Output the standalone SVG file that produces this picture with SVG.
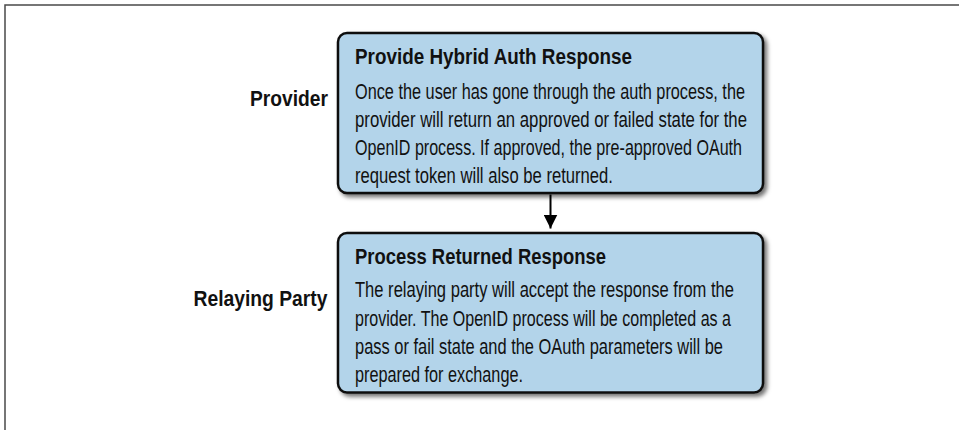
<svg xmlns="http://www.w3.org/2000/svg" width="959" height="430" viewBox="0 0 959 430">
<defs>
<filter id="sh" x="-5%" y="-5%" width="115%" height="125%">
<feDropShadow dx="3" dy="3" stdDeviation="2" flood-color="#000" flood-opacity="0.55"/>
</filter>
<marker id="ah" markerUnits="userSpaceOnUse" markerWidth="16" markerHeight="14" refX="14" refY="7" orient="auto">
<path d="M0,0 L14,7 L0,14 Z" fill="#000"/>
</marker>
</defs>
<style>
.box{fill:#b3d4ea;stroke:#111;stroke-width:2.5;filter:url(#sh)}
.t{font-family:"Liberation Sans Narrow","Liberation Sans",Arial,sans-serif;font-weight:bold;font-size:22.5px;fill:#111}
.b{font-family:"Liberation Sans Narrow","Liberation Sans",Arial,sans-serif;font-size:21.5px;fill:#111}
.lbl{font-family:"Liberation Sans Narrow","Liberation Sans",Arial,sans-serif;font-weight:bold;font-size:22.5px;fill:#111}
.frame{stroke:#4a4a4a;stroke-width:1.5;fill:none}
</style>
<rect width="959" height="430" fill="#fff"/>
<path class="frame" d="M5,430 V5 H959"/>
<g id="label-provider">
<text class="lbl" x="250" y="105.5" textLength="78" lengthAdjust="spacingAndGlyphs">Provider</text>
</g>
<g id="label-relaying-party">
<text class="lbl" x="193.5" y="305.5" textLength="134" lengthAdjust="spacingAndGlyphs">Relaying Party</text>
</g>
<g id="node-provide">
<rect class="box" x="338" y="33" width="425" height="160" rx="9"/>
<text class="t" x="355" y="64" textLength="277" lengthAdjust="spacingAndGlyphs">Provide Hybrid Auth Response</text>
<text class="b" x="355" y="98.5" textLength="390" lengthAdjust="spacingAndGlyphs">Once the user has gone through the auth process, the</text>
<text class="b" x="355" y="126.5" textLength="392" lengthAdjust="spacingAndGlyphs">provider will return an approved or failed state for the</text>
<text class="b" x="355" y="154.5" textLength="387" lengthAdjust="spacingAndGlyphs">OpenID process. If approved, the pre-approved OAuth</text>
<text class="b" x="355" y="182.5" textLength="258" lengthAdjust="spacingAndGlyphs">request token will also be returned.</text>
</g>
<g id="node-process">
<rect class="box" x="338" y="233" width="425" height="159.5" rx="9"/>
<text class="t" x="355" y="264" textLength="251" lengthAdjust="spacingAndGlyphs">Process Returned Response</text>
<text class="b" x="355" y="297" textLength="379" lengthAdjust="spacingAndGlyphs">The relaying party will accept the response from the</text>
<text class="b" x="355" y="325.5" textLength="376" lengthAdjust="spacingAndGlyphs">provider. The OpenID process will be completed as a</text>
<text class="b" x="355" y="353.5" textLength="368" lengthAdjust="spacingAndGlyphs">pass or fail state and the OAuth parameters will be</text>
<text class="b" x="355" y="382" textLength="168" lengthAdjust="spacingAndGlyphs">prepared for exchange.</text>
</g>
<g id="connectors">
<line x1="550.5" y1="194.5" x2="550.5" y2="228.5" stroke="#000" stroke-width="2" marker-end="url(#ah)"/>
</g>
</svg>
